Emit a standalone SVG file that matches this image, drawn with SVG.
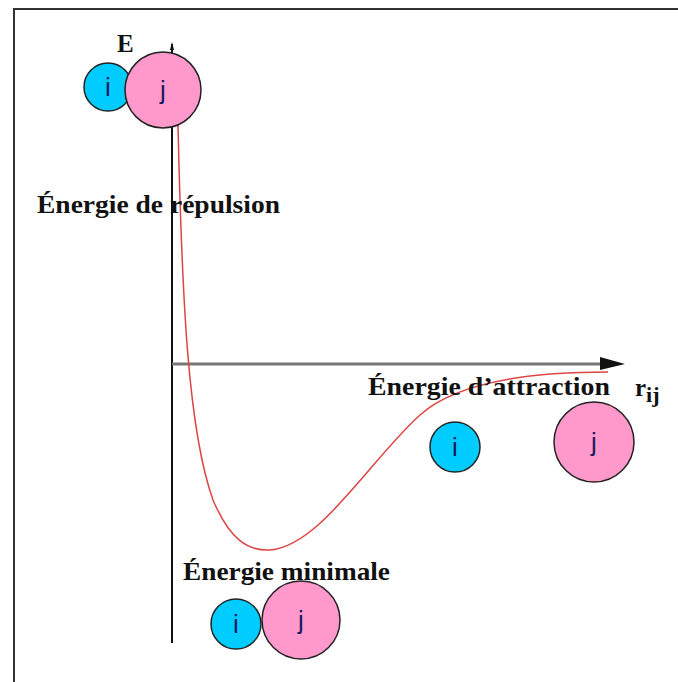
<svg xmlns="http://www.w3.org/2000/svg" width="678" height="682" viewBox="0 0 678 682">
<style>
.lbl{font-family:"Liberation Serif","Times New Roman",serif;font-weight:bold;font-size:25px;fill:#111}
.ci{fill:#00CCFF;stroke:#222;stroke-width:1.5}
.cj{fill:#FF99CC;stroke:#222;stroke-width:1.5}
.t{font-family:"Liberation Sans",Arial,sans-serif;font-size:26px;fill:#1a1a60;text-anchor:middle}
</style>
<rect width="678" height="682" fill="#fff"/>
<g id="frame" fill="none" stroke="#333" stroke-width="2">
<path d="M14,682 L14,9 L678,9"/>
</g>
<g id="connectors">
<line x1="172" y1="643" x2="172" y2="44" stroke="#111" stroke-width="2"/>
<path d="M170,50 L172,42 L174,50 Z" fill="#111"/>
<line x1="172" y1="364" x2="600" y2="364" stroke="#777" stroke-width="3"/>
<path d="M600,357 L625,364 L600,370 Z" fill="#111"/>
<path d="M178,125 C182,300 188,430 213,500 C230,540 248,551 270,550 C320,546 370,460 420,415 C460,379 540,372 608,372" fill="none" stroke="#dd4444" stroke-width="1.5"/>
</g>
<g id="E"><text class="lbl" x="117" y="52" font-size="26">E</text></g>
<g id="repulsion"><text class="lbl" x="37" y="213" textLength="243" lengthAdjust="spacingAndGlyphs">Énergie de répulsion</text></g>
<g id="attraction"><text class="lbl" x="368" y="395" textLength="242" lengthAdjust="spacingAndGlyphs">Énergie d’attraction</text></g>
<g id="rij"><text class="lbl" x="635" y="396" font-size="30">r<tspan font-size="22" dy="6">ij</tspan></text></g>
<g id="minimale"><text class="lbl" x="183" y="580" textLength="207" lengthAdjust="spacingAndGlyphs">Énergie minimale</text></g>
<g id="pair-top">
<circle class="ci" cx="108" cy="87" r="24"/>
<text class="t" x="108" y="96">i</text>
<circle class="cj" cx="163" cy="90" r="38"/>
<text class="t" x="163" y="99">j</text>
</g>
<g id="pair-mid">
<circle class="ci" cx="455" cy="447" r="25"/>
<text class="t" x="455" y="456">i</text>
<circle class="cj" cx="594" cy="442" r="40"/>
<text class="t" x="594" y="451">j</text>
</g>
<g id="pair-bottom">
<circle class="ci" cx="236" cy="624" r="25"/>
<text class="t" x="236" y="633">i</text>
<circle class="cj" cx="301" cy="620" r="39"/>
<text class="t" x="301" y="629">j</text>
</g>
</svg>
